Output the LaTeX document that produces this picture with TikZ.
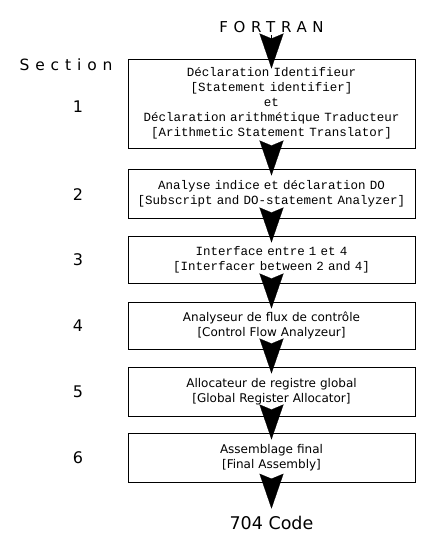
\documentclass[tikz,border=0pt]{standalone}
\usepackage{fontspec}
\setmainfont{DejaVu Sans}
\newfontfamily\monofont{Liberation Mono}
\newfontfamily\spacedfont[LetterSpace=38]{DejaVu Sans}
\usetikzlibrary{arrows.meta}

\tikzset{
    stage/.style={draw, line width=1pt, text width=287pt, align=center, inner sep=0pt},
    monotext/.style={font=\monofont\fontsize{12.5}{15}\selectfont},
    sanstext/.style={font=\fontsize{12}{15}\selectfont},
    flow/.style={-{Stealth[length=35pt, width=24pt, inset=5pt]}, line width=0.2pt},
}

\begin{document}
\begin{tikzpicture}[x=1pt, y=-1pt]
    \useasboundingbox (0,0) rectangle (434,550);

    % Draw the input and output labels
    \node (fortran) at (271.5,27) {\spacedfont\fontsize{15}{18}\selectfont FORTRAN};
    \node[font=\fontsize{17.5}{20}\selectfont] (code) at (271.5,523) {704 Code};
    \node (section) at (66,65) {\spacedfont\fontsize{15.5}{18}\selectfont Section};

    % Draw the stages
    \node[stage, monotext, minimum height=89pt] (s1) at (271.5,103.5)
        {Déclaration Identifieur\\ {[Statement identifier]}\\ et\\
         Déclaration arithmétique Traducteur\\ {[Arithmetic Statement Translator]}};
    \node[stage, monotext, minimum height=49pt] (s2) at (271.5,193.5)
        {Analyse indice et déclaration DO\\ {[Subscript and DO-statement Analyzer]}};
    \node[stage, monotext, minimum height=47pt] (s3) at (271.5,259.5)
        {Interface entre 1 et 4\\ {[Interfacer between 2 and 4]}};
    \node[stage, sanstext, minimum height=47pt] (s4) at (271.5,325.5)
        {Analyseur de flux de contrôle\\ {[Control Flow Analyzeur]}};
    \node[stage, sanstext, minimum height=49pt] (s5) at (271.5,391.5)
        {Allocateur de registre global\\ {[Global Register Allocator]}};
    \node[stage, sanstext, minimum height=49pt] (s6) at (271.5,457.5)
        {Assemblage final\\ {[Final Assembly]}};

    % Draw the section numbers
    \foreach \y/\label in {107/1, 195/2, 260/3, 326/4, 392/5, 458/6} {
        \node[font=\fontsize{16}{18}\selectfont] (n\label) at (78,\y) {\label};
    }

    % Draw the arrows between the stages
    \draw[flow, shorten <=-1pt, shorten >=-10pt] (fortran.south) -- (s1.north);
    \foreach \a/\b in {s1/s2, s2/s3, s3/s4, s4/s5, s5/s6} {
        \draw[flow, shorten <=-5pt, shorten >=-7pt] (\a.south) -- (\b.north);
    }
    \draw[flow, shorten <=-5pt, shorten >=4pt] (s6.south) -- (code.north);

\end{tikzpicture}
\end{document}
